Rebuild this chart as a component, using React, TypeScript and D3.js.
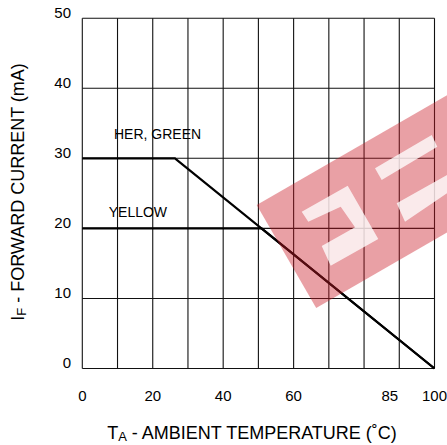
import React from "react";
import * as d3 from "d3";

const W = 447;
const H = 445;

// Axes
const xDomain = [0, 100];
const yDomain = [0, 50];
const xGridValues = [0, 10, 20, 30, 40, 50, 60, 70, 80, 90, 100];
const yGridValues = [0, 10, 20, 30, 40, 50];
const xTickLabels = ["0", "20", "40", "60", "85", "100"];
const xTickPositions = [0, 20, 40, 60, 87.3, 100];
const yTickLabels = ["0", "10", "20", "30", "40", "50"];
const yTickValues = [0, 10, 20, 30, 40, 50];

// Series (derating curves)
const herGreenT = [0, 26.3, 100];
const herGreenI = [30, 30, 0];
const yellowT = [0, 50.9, 100];
const yellowI = [20, 20, 0];

const seriesLabels = ["HER, GREEN", "YELLOW"];
const seriesLabelAt = [
  { t: 9, i: 33.3 },
  { t: 7.5, i: 22.2 },
];

export default function App() {
  const x = d3.scaleLinear().domain(xDomain).range([82.3, 434.5]);
  const y = d3.scaleLinear().domain(yDomain).range([368.5, 18.2]);
  const line = d3
    .line<[number, number]>()
    .x((d) => x(d[0]))
    .y((d) => y(d[1]));

  const hg = herGreenT.map((t, k) => [t, herGreenI[k]] as [number, number]);
  const ye = yellowT.map((t, k) => [t, yellowI[k]] as [number, number]);

  const font = "'Liberation Sans', Arial, sans-serif";

  return (
    <svg
      width={W}
      height={H}
      style={{ position: "absolute", left: 0, top: 0, background: "#fff" }}
      fontFamily={font}
    >
      <defs>
        <clipPath id="clipAll">
          <rect x={0} y={0} width={W} height={H} />
        </clipPath>
      </defs>
      <rect x={0} y={0} width={W} height={H} fill="#fff" />
      {/* grid */}
      {xGridValues.map((v) => (
        <line
          key={"gx" + v}
          x1={x(v)}
          x2={x(v)}
          y1={y(50)}
          y2={y(0)}
          stroke="#111"
          strokeWidth={1.1}
        />
      ))}
      {yGridValues.map((v) => (
        <line
          key={"gy" + v}
          x1={x(0)}
          x2={x(100)}
          y1={y(v)}
          y2={y(v)}
          stroke="#111"
          strokeWidth={1.1}
        />
      ))}
      {/* curves */}
      <path d={line(hg) || ""} fill="none" stroke="#000" strokeWidth={2.2} />
      <path d={line(ye) || ""} fill="none" stroke="#000" strokeWidth={2.2} />

      {/* watermark */}
      <g clipPath="url(#clipAll)">
        <g transform="translate(256.7,205) rotate(-30)">
          <rect x={0} y={0} width={260} height={119} fill="rgb(202,29,40)" opacity={0.42} />
        </g>
        <g fill="#fff" opacity={0.78}>
          <polygon points="301.7,211.7 347.7,185.7 378.3,239 330.7,265.7 321.7,246 355,227.3 340.7,206.7 308.3,221.7" />
          <polygon points="375,168.3 431.7,135 437.3,146.7 381.7,180" />
          <polygon points="396.7,203.3 447,175 447,193.3 405,221.7" />
        </g>
      </g>

      {/* series labels */}
      {seriesLabels.map((s, k) => (
        <text
          key={s}
          x={x(seriesLabelAt[k].t)}
          y={y(seriesLabelAt[k].i)}
          fontSize={14}
          dominantBaseline="middle"
          fill="#000"
        >
          {s}
        </text>
      ))}

      {/* y tick labels */}
      {yTickValues.map((v, k) => (
        <text
          key={"yt" + v}
          x={71}
          y={y(v) - 4.5}
          fontSize={15}
          textAnchor="end"
          dominantBaseline="middle"
          fill="#000"
        >
          {yTickLabels[k]}
        </text>
      ))}
      {/* x tick labels */}
      {xTickPositions.map((v, k) => (
        <text
          key={"xt" + k}
          x={x(v)}
          y={397}
          fontSize={15}
          textAnchor="middle"
          dominantBaseline="middle"
          fill="#000"
        >
          {xTickLabels[k]}
        </text>
      ))}

      {/* axis titles */}
      <text x={252} y={434} fontSize={18} textAnchor="middle" dominantBaseline="middle" fill="#000">
        T<tspan fontSize={13} dy={4}>A</tspan>
        <tspan dy={-4}> - AMBIENT TEMPERATURE (˚C)</tspan>
      </text>
      <text
        transform="translate(19,192) rotate(-90)"
        fontSize={18}
        textAnchor="middle"
        dominantBaseline="middle"
        fill="#000"
      >
        I<tspan fontSize={13} dy={4}>F</tspan>
        <tspan dy={-4}> - FORWARD CURRENT (mA)</tspan>
      </text>
    </svg>
  );
}
